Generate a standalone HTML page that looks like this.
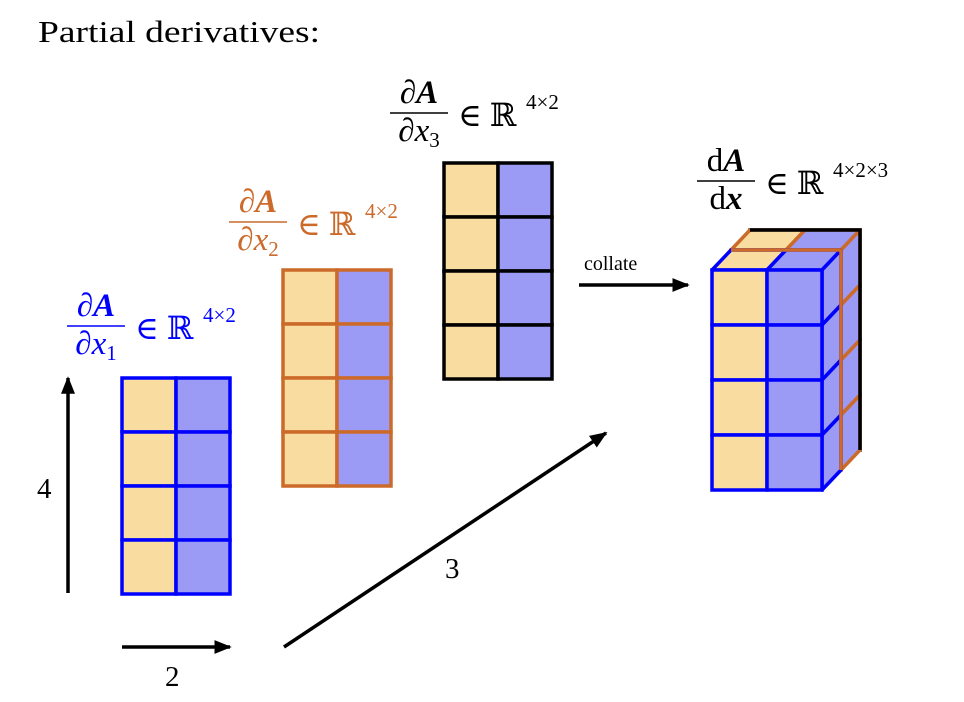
<!DOCTYPE html>
<html><head><meta charset="utf-8"><style>
html,body{margin:0;padding:0;background:#fff;}
svg{display:block;font-family:"Liberation Serif","DejaVu Serif",serif;}
</style></head><body>
<svg width="964" height="702" viewBox="0 0 964 702">
<defs>
<marker id="ah" viewBox="0 0 10 10" refX="9" refY="5" markerWidth="5" markerHeight="5" orient="auto"><path d="M0,1 L10,5 L0,9 z" fill="#000"/></marker>
</defs>
<text x="38" y="42" font-size="31" textLength="282" lengthAdjust="spacingAndGlyphs">Partial derivatives:</text>
<g id="mats"></g>
<g id="cube"></g>
<g id="labels"></g>
<line x1="68" y1="593" x2="68" y2="378" stroke="#000" stroke-width="3.5" marker-end="url(#ah)"/>
<text x="37" y="498" font-size="29">4</text>
<line x1="122" y1="647" x2="230" y2="647" stroke="#000" stroke-width="3.5" marker-end="url(#ah)"/>
<text x="165" y="686" font-size="29">2</text>
<line x1="284" y1="647" x2="606" y2="433" stroke="#000" stroke-width="3.5" marker-end="url(#ah)"/>
<text x="445" y="578" font-size="29">3</text>
<line x1="579" y1="285" x2="688" y2="285" stroke="#000" stroke-width="3.5" marker-end="url(#ah)"/>
<text x="584" y="270" font-size="20">collate</text>
</svg>
<script>
const Y="#f9dda0",P="#9b9bf5",NS="http://www.w3.org/2000/svg";
function el(t,a,p){const e=document.createElementNS(NS,t);for(const k in a)e.setAttribute(k,a[k]);p.appendChild(e);return e;}
function grid(g,x,y,c,col,name){
  const grp=el('g',{},g);
  
  
  for(let r=0;r<4;r++)for(let k=0;k<2;k++)
    el('rect',{x:x+k*c,y:y+r*c,width:c,height:c,fill:k?P:Y,stroke:col,'stroke-width':3.5},grp);
}
const m=document.getElementById('mats');
grid(m,122,378,54,'#0000ff','matrix-dx1');
grid(m,283,270,54,'#cc6a2a','matrix-dx2');
grid(m,444,163,54,'#000','matrix-dx3');
const cb=document.getElementById('cube');
const layers=[[38,-40,'#000'],[19,-20,'#cc6a2a'],[0,0,'#0000ff']];
const bx=712,by=270,c=55;
layers.forEach((L,i)=>{
  const [dx,dy,col]=L;const x=bx+dx,y=by+dy;
  grid(cb,x,y,c,col,'tensor-layer-'+(i+1));
  if(i<2){const [nx,ny,ncol]=layers[i+1];const o=bx+nx,q=by+ny;
    const s=el('g',{},cb);
    
    
    for(let k=0;k<2;k++)el('polygon',{points:`${o+k*c},${q} ${o+k*c+c},${q} ${x+k*c+c},${y} ${x+k*c},${y}`,fill:k?P:Y,stroke:ncol,'stroke-width':3.5,'stroke-linejoin':'round'},s);
    for(let r=0;r<4;r++)el('polygon',{points:`${o+2*c},${q+r*c} ${x+2*c},${y+r*c} ${x+2*c},${y+r*c+c} ${o+2*c},${q+r*c+c}`,fill:P,stroke:ncol,'stroke-width':3.5,'stroke-linejoin':'round'},s);
    el('polyline',{points:`${x},${y} ${x+2*c},${y} ${x+2*c},${y+4*c}`,fill:'none',stroke:col,'stroke-width':3.5},s);
  }
});
const lb=document.getElementById('labels');
function frac(x,y,col,num,den,sup,name){
  const g=el('g',{fill:col},lb);
  
  
  el('line',{x1:x,y1:y,x2:x+58,y2:y,stroke:col,'stroke-width':1.5},g);
  el('text',{x:x+29,y:y-10,'font-size':33,'text-anchor':'middle','font-style':'italic'},g).innerHTML=num;
  el('text',{x:x+29,y:y+28,'font-size':33,'text-anchor':'middle','font-style':'italic'},g).innerHTML=den;
  el('text',{x:x+68,y:y+13,'font-size':32},g).textContent='∈ ℝ';
  el('text',{x:x+136,y:y-4,'font-size':21},g).textContent=sup;
}
frac(67,326,'#0000ff','∂<tspan font-weight="bold">A</tspan>','∂x<tspan font-size="21" font-style="normal" dy="6">1</tspan>','4×2','label-dx1');
frac(229,222,'#cc6a2a','∂<tspan font-weight="bold">A</tspan>','∂x<tspan font-size="21" font-style="normal" dy="6">2</tspan>','4×2','label-dx2');
frac(390,113,'#000','∂<tspan font-weight="bold">A</tspan>','∂x<tspan font-size="21" font-style="normal" dy="6">3</tspan>','4×2','label-dx3');
frac(697,181,'#000','<tspan font-style="normal">d</tspan><tspan font-weight="bold">A</tspan>','<tspan font-style="normal">d</tspan><tspan font-weight="bold">x</tspan>','4×2×3','label-tensor');
</script>
</body></html>
